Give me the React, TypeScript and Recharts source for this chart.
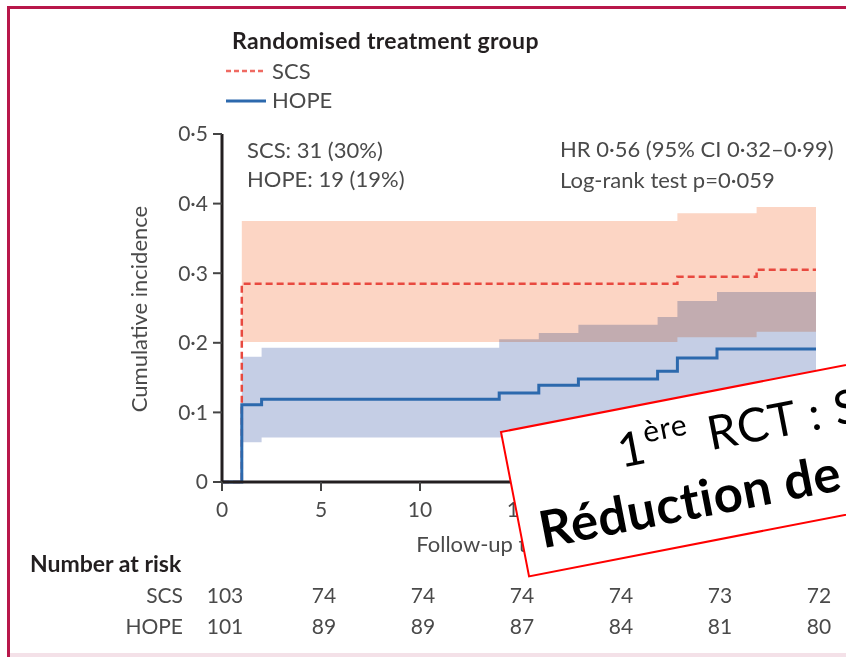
import { ComposedChart, Area, Line, XAxis, YAxis } from "recharts";

// follow-up time points where any curve or band steps
const TIMES = [0, 1, 2, 14, 16, 18, 22, 23, 25, 27, 30];
const SCS_INCIDENCE = [0, 0.285, 0.285, 0.285, 0.285, 0.285, 0.285, 0.295, 0.295, 0.305, 0.305];
const SCS_LOWER = [null, 0.201, 0.201, 0.201, 0.201, 0.201, 0.201, 0.208, 0.208, 0.216, 0.216];
const SCS_UPPER = [null, 0.375, 0.375, 0.375, 0.375, 0.375, 0.375, 0.386, 0.386, 0.395, 0.395];
const HOPE_INCIDENCE = [0, 0.111, 0.119, 0.128, 0.139, 0.148, 0.159, 0.178, 0.191, 0.191, 0.191];
const HOPE_LOWER = [null, 0.057, 0.064, 0.064, 0.07, 0.077, 0.085, 0.1, 0.11, 0.11, 0.11];
const HOPE_UPPER = [null, 0.18, 0.193, 0.205, 0.214, 0.226, 0.237, 0.26, 0.273, 0.273, 0.273];

const X_TICKS = [0, 5, 10, 15, 20, 25, 30];
const Y_TICKS = [0, 0.1, 0.2, 0.3, 0.4, 0.5];
const SCS_AT_RISK = [103, 74, 74, 74, 74, 73, 72];
const HOPE_AT_RISK = [101, 89, 89, 87, 84, 81, 80];

const FONT = "Lato, 'Noto Sans', sans-serif";
const TEXT = "#4a4a4a";
const DARK = "#231f20";

const rows = TIMES.map((t, i) => ({
  t,
  scs: SCS_INCIDENCE[i],
  hope: HOPE_INCIDENCE[i],
  scsBand: SCS_LOWER[i] == null ? null : [SCS_LOWER[i], SCS_UPPER[i]],
  hopeBand: HOPE_LOWER[i] == null ? null : [HOPE_LOWER[i], HOPE_UPPER[i]],
}));

const fmt = (v: number) => (v === 0 ? "0" : v.toFixed(1).replace(".", "·"));

function TimeTick(props: any) {
  const { x, y, payload } = props;
  const i = X_TICKS.indexOf(payload.value);
  return (
    <g fontFamily={FONT} fontSize={21} fill={TEXT}>
      <text x={x} y={y + 15} textAnchor="middle">{payload.value}</text>
      <text x={x + 3} y={y + 101} textAnchor="middle">{SCS_AT_RISK[i]}</text>
      <text x={x + 3} y={y + 132} textAnchor="middle">{HOPE_AT_RISK[i]}</text>
    </g>
  );
}

export default function App() {
  return (
    <div style={{ position: "absolute", left: 0, top: 0, width: 846, height: 657, overflow: "hidden", background: "#fff" }}>
      <style>{`.hope-band path { mix-blend-mode: multiply; }`}</style>
      {/* slide frame */}
      <div style={{ position: "absolute", left: 7, top: 6, width: 900, height: 700, borderTop: "3px solid #b8174a", borderLeft: "3px solid #b8174a" }} />
      <div style={{ position: "absolute", left: 10, top: 653, width: 846, height: 4, background: "#f4e1e8" }} />

      <div style={{ position: "absolute", left: 0, top: 0 }}>
        <ComposedChart width={846} height={657} data={rows} margin={{ top: 134, right: 30, left: 162, bottom: 135 }}>
          <XAxis
            dataKey="t"
            type="number"
            domain={[0, 30]}
            ticks={X_TICKS}
            interval={0}
            height={40}
            tickSize={9}
            tickMargin={11}
            tick={<TimeTick />}
            tickLine={{ stroke: "#444", strokeWidth: 2 }}
            axisLine={{ stroke: DARK, strokeWidth: 3 }}
          />
          <YAxis
            type="number"
            domain={[0, 0.5]}
            ticks={Y_TICKS}
            width={60}
            tickSize={9}
            tickMargin={5}
            tickFormatter={fmt}
            tick={{ fill: TEXT, fontSize: 21, fontFamily: FONT }}
            tickLine={{ stroke: "#444", strokeWidth: 2 }}
            axisLine={{ stroke: DARK, strokeWidth: 3 }}
          />
          <Area dataKey="scsBand" type="stepAfter" stroke="none" fill="#fcd5c4" fillOpacity={1} isAnimationActive={false} dot={false} activeDot={false} />
          <Area className="hope-band" dataKey="hopeBand" type="stepAfter" stroke="none" fill="#c5cee5" fillOpacity={1} isAnimationActive={false} dot={false} activeDot={false} />
          <Line dataKey="scs" type="stepAfter" stroke="#e8493f" strokeWidth={2.5} strokeDasharray="7 4" dot={false} activeDot={false} isAnimationActive={false} />
          <Line dataKey="hope" type="stepAfter" stroke="#2c69ad" strokeWidth={3} dot={false} activeDot={false} isAnimationActive={false} />
        </ComposedChart>
      </div>

      <svg width={846} height={657} style={{ position: "absolute", left: 0, top: 0, pointerEvents: "none" }} fontFamily={FONT}>
        <text x={232} y={49} fontSize={23} fontWeight={700} letterSpacing={0.3} fill={DARK}>Randomised treatment group</text>
        <line x1={226} x2={266} y1={71} y2={71} stroke="#ef6a62" strokeWidth={2.5} strokeDasharray="5 3" />
        <text x={272} y={79} fontSize={22} fill={TEXT}>SCS</text>
        <line x1={226} x2={266} y1={101} y2={101} stroke="#2c69ad" strokeWidth={3} />
        <text x={272} y={108} fontSize={22} fill={TEXT}>HOPE</text>

        <text x={247} y={158} fontSize={22} fill={TEXT}>SCS: 31 (30%)</text>
        <text x={247} y={187} fontSize={22} fill={TEXT}>HOPE: 19 (19%)</text>
        <text x={560} y={157} fontSize={22} fill={TEXT}>HR 0·56 (95% CI 0·32–0·99)</text>
        <text x={560} y={188} fontSize={22} fill={TEXT}>Log-rank test p=0·059</text>

        <text transform="translate(147 309) rotate(-90)" textAnchor="middle" fontSize={22} fill={TEXT}>Cumulative incidence</text>
        <text x={519} y={552} textAnchor="middle" fontSize={22} fill={TEXT}>Follow-up time (days)</text>

        <text x={30} y={572} fontSize={23} fontWeight={700} fill={DARK}>Number at risk</text>
        <text x={183} y={603} textAnchor="end" fontSize={21} fill={TEXT}>SCS</text>
        <text x={183} y={634} textAnchor="end" fontSize={21} fill={TEXT}>HOPE</text>

        <g transform="translate(501 432) rotate(-11)">
          <rect x={0} y={0} width={620} height={147} fill="#fff" stroke="#ff0000" strokeWidth={2} />
          <text x={111} y={58} fontSize={47} letterSpacing={1} fill="#000">
            1<tspan fontSize={30} dy={-20}>ère</tspan>
            <tspan dy={20} dx={5}> RCT : SCS vs HOPE</tspan>
          </text>
          <text x={19} y={122} fontSize={51} fontWeight={700} letterSpacing={0.6} fill="#000">Réduction de Complications</text>
        </g>
      </svg>
    </div>
  );
}
